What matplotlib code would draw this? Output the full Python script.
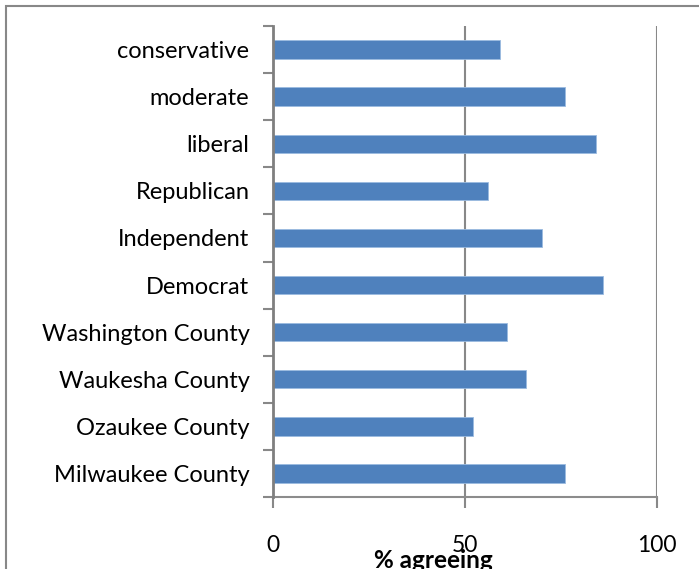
import matplotlib.pyplot as plt
from matplotlib.patches import Rectangle

categories = ["Milwaukee County", "Ozaukee County", "Waukesha County",
              "Washington County", "Democrat", "Independent", "Republican",
              "liberal", "moderate", "conservative"]
values = [76, 52, 66, 61, 86, 70, 56, 84, 76, 59]
xticks = [0, 50, 100]

W, H = 699, 569
fig = plt.figure(figsize=(W / 100, H / 100), dpi=100)
plt.rcParams['font.family'] = ['Lato', 'DejaVu Sans']

# outer chart border (left and top visible, rest cut off)
fig.patches.append(Rectangle((6 / W, -0.1), 1.2, 1 - 6 / H + 0.1,
                             transform=fig.transFigure, fill=False,
                             edgecolor='#888888', linewidth=1.5))

ax = fig.add_axes([273 / W, 72 / H, (657 - 273) / W, (497 - 26) / H])

pos = list(range(len(categories)))
ax.barh(pos, values, height=0.39, color='#4f81bd', edgecolor='#9bbbe0',
        linewidth=0.6, zorder=3)

ax.set_xlim(0, 100)
ax.set_ylim(-0.5, len(categories) - 0.5)
ax.set_xticks(xticks)
ax.set_xticklabels([str(t) for t in xticks], fontsize=16.5)
ax.set_yticks(pos)
ax.set_yticklabels(categories, fontsize=17)
ax.set_yticks([p - 0.5 for p in pos] + [len(categories) - 0.5], minor=True)

ax.tick_params(axis='y', which='major', length=0, pad=17)
ax.tick_params(axis='y', which='minor', length=7, width=1.5, color='#888888')
ax.tick_params(axis='x', length=8, width=1.5, color='#888888', pad=19)

ax.xaxis.grid(True, color='#888888', linewidth=1.5, zorder=0)
for s in ['top', 'right']:
    ax.spines[s].set_visible(False)
ax.spines['left'].set_color('#7f7f7f')
ax.spines['left'].set_linewidth(2.0)
ax.spines['bottom'].set_color('#8c8c8c')
ax.spines['bottom'].set_linewidth(1.5)
ax.spines['left'].set_zorder(4)

fig.text(433 / W, 1 - 560 / H, "% agreeing", fontsize=17.5, fontweight='bold',
         ha='center', va='center')

fig.savefig("out.png", dpi=100)
